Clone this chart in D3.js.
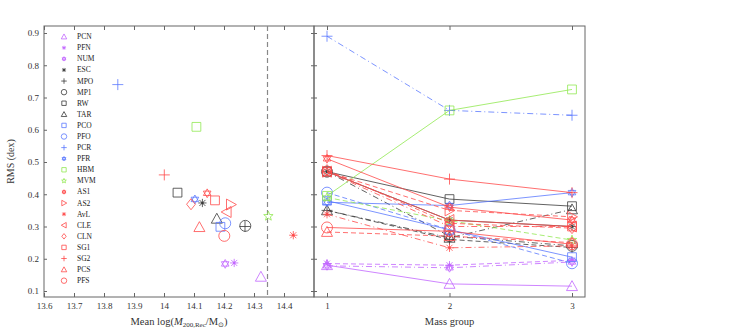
<!DOCTYPE html>
<html>
<head>
<meta charset="utf-8">
<script src="https://cdn.jsdelivr.net/npm/d3@7"></script>
<style>
  body { margin: 0; background: #fff; }
  text { font-family: "Liberation Serif", "DejaVu Serif", serif; }
</style>
</head>
<body>
<svg id="chart" width="748" height="335"></svg>
<script>
// method names, in legend order
const methods = ["PCN","PFN","NUM","ESC","MPO","MP1","RW","TAR","PCO","PFO","PCR","PFR",
                 "HBM","MVM","AS1","AS2","AvL","CLE","CLN","SG1","SG2","PCS","PFS"];
// left panel: mean log mass and RMS for each method
const meanLogMass = [14.323,14.234,14.204,14.128,14.27,14.271,14.045,14.176,14.188,14.204,13.846,14.103,
                     14.108,14.348,14.144,14.223,14.431,14.209,14.09,14.17,14.001,14.118,14.201];
const rmsAll = [0.144,0.187,0.184,0.373,0.30,0.302,0.405,0.324,0.299,0.31,0.74,0.384,
                0.609,0.332,0.403,0.368,0.273,0.345,0.369,0.381,0.46,0.298,0.271];
// right panel: RMS per mass group
const massGroups = [1, 2, 3];
const rmsGroup1 = [0.18,0.185,0.178,0.47,0.35,0.47,0.47,0.35,0.38,0.405,0.89,0.375,
                   0.395,0.39,0.51,0.47,0.338,0.47,0.475,0.47,0.52,0.283,0.297];
const rmsGroup2 = [0.122,0.18,0.172,0.32,0.26,0.27,0.385,0.265,0.29,0.29,0.66,0.365,
                   0.66,0.318,0.36,0.35,0.234,0.32,0.31,0.30,0.447,0.27,0.285];
const rmsGroup3 = [0.115,0.195,0.19,0.30,0.235,0.24,0.363,0.353,0.205,0.186,0.645,0.405,
                   0.725,0.258,0.32,0.33,0.24,0.30,0.295,0.30,0.405,0.25,0.245];
const xTicksLeft = [13.6,13.7,13.8,13.9,14.0,14.1,14.2,14.3,14.4];
const yTicks = [0.1,0.2,0.3,0.4,0.5,0.6,0.7,0.8,0.9];
const massCut = 14.345;

// styles
const colorOf = {
  PCN:"#c266ff",PFN:"#c266ff",NUM:"#c266ff",
  ESC:"#3a3a3a",MPO:"#3a3a3a",MP1:"#3a3a3a",RW:"#3a3a3a",TAR:"#3a3a3a",
  PCO:"#5b78ff",PFO:"#5b78ff",PCR:"#5b78ff",PFR:"#5b78ff",
  HBM:"#90e850",MVM:"#90e850",
  AS1:"#ff4a4a",AS2:"#ff4a4a",AvL:"#ff4a4a",CLE:"#ff4a4a",CLN:"#ff4a4a",SG1:"#ff4a4a",SG2:"#ff4a4a",PCS:"#ff4a4a",PFS:"#ff4a4a"
};
const markerOf = {
  PCN:"tri",PFN:"ast",NUM:"hex",ESC:"ast",MPO:"plus",MP1:"circ",RW:"sq",TAR:"tri",
  PCO:"sq",PFO:"circ",PCR:"plus",PFR:"hex",HBM:"sq",MVM:"star",AS1:"hex",AS2:"triR",
  AvL:"ast",CLE:"triL",CLN:"diam",SG1:"sq",SG2:"plus",PCS:"tri",PFS:"circ"
};
const dashOf = {
  PCN:null,PFN:"5,3",NUM:"6,3,1,3",ESC:null,MPO:"5,3",MP1:"6,3,1,3",RW:null,TAR:"6,3,1,3",
  PCO:null,PFO:"5,3",PCR:"6,3,1,3",PFR:null,HBM:null,MVM:"5,3",AS1:null,AS2:"5,3",
  AvL:"6,3,1,3",CLE:null,CLN:"5,3",SG1:"6,3,1,3",SG2:null,PCS:"5,3",PFS:null
};
const serif = "'Liberation Serif', 'DejaVu Serif', serif";

function markerPath(type, s) {
  const h = s / 2;
  const p = d3.path();
  if (type === "tri") {
    p.moveTo(0, -h); p.lineTo(h, h * 0.8); p.lineTo(-h, h * 0.8); p.closePath();
  } else if (type === "triR") {
    p.moveTo(h, 0); p.lineTo(-h * 0.8, -h); p.lineTo(-h * 0.8, h); p.closePath();
  } else if (type === "triL") {
    p.moveTo(-h, 0); p.lineTo(h * 0.8, -h); p.lineTo(h * 0.8, h); p.closePath();
  } else if (type === "sq") {
    const a = h * 0.8; p.rect(-a, -a, 2 * a, 2 * a);
  } else if (type === "circ") {
    p.moveTo(h, 0); p.arc(0, 0, h, 0, 2 * Math.PI);
  } else if (type === "diam") {
    p.moveTo(0, -h); p.lineTo(h * 0.8, 0); p.lineTo(0, h); p.lineTo(-h * 0.8, 0); p.closePath();
  } else if (type === "plus") {
    p.moveTo(-h, 0); p.lineTo(h, 0); p.moveTo(0, -h); p.lineTo(0, h);
  } else if (type === "ast") {
    const a = h * 0.75, b = h * 0.55;
    p.moveTo(-a, 0); p.lineTo(a, 0); p.moveTo(0, -a); p.lineTo(0, a);
    p.moveTo(-b, -b); p.lineTo(b, b); p.moveTo(-b, b); p.lineTo(b, -b);
  } else if (type === "hex") {
    const r = h * 0.8;
    for (const off of [-Math.PI / 2, Math.PI / 2]) {
      for (let i = 0; i < 3; i++) {
        const ang = off + i * 2 * Math.PI / 3;
        const x = r * Math.cos(ang), yy = r * Math.sin(ang);
        if (i === 0) p.moveTo(x, yy); else p.lineTo(x, yy);
      }
      p.closePath();
    }
  } else if (type === "star") {
    const R = h * 0.9, r = R * 0.42;
    for (let i = 0; i < 10; i++) {
      const ang = -Math.PI / 2 + i * Math.PI / 5;
      const rr = i % 2 === 0 ? R : r;
      if (i === 0) p.moveTo(rr * Math.cos(ang), rr * Math.sin(ang));
      else p.lineTo(rr * Math.cos(ang), rr * Math.sin(ang));
    }
    p.closePath();
  }
  return p.toString();
}

function drawMarker(g, m, x, yy, size) {
  const c = colorOf[m];
  g.append("path")
    .attr("transform", "translate(" + x + "," + yy + ")")
    .attr("d", markerPath(markerOf[m], size))
    .attr("fill", "none")
    .attr("stroke", c)
    .attr("stroke-width", 0.8);
  if (markerOf[m] === "ast") {
    g.append("circle").attr("cx", x).attr("cy", yy).attr("r", size * 0.12).attr("fill", c);
  }
}

const svg = d3.select("#chart");
const plotTop = 26, plotBottom = 297;
const leftL = 44, leftR = 314, rightR = 585;
const frameColor = "#666";

const xL = d3.scaleLinear().domain([13.6, 14.5]).range([leftL, leftR]);
const xR = d3.scaleLinear().domain([1, 3]).range([327, 572]);
const y = d3.scaleLinear().domain([0.1, 0.9]).range([291, 33]);

// frames
svg.append("rect").attr("x", leftL).attr("y", plotTop).attr("width", leftR - leftL).attr("height", plotBottom - plotTop)
  .attr("fill", "none").attr("stroke", frameColor).attr("stroke-width", 1);
svg.append("rect").attr("x", leftR).attr("y", plotTop).attr("width", rightR - leftR).attr("height", plotBottom - plotTop)
  .attr("fill", "none").attr("stroke", frameColor).attr("stroke-width", 1);

// axes
function styleAxis(g) {
  g.attr("font-family", null);
  g.select(".domain").remove();
  g.selectAll(".tick line").attr("stroke", frameColor);
  g.selectAll(".tick text").attr("fill", "#333").style("font-family", serif).style("font-size", "9px");
}
const fmt = d => String(+d.toFixed(1));

svg.append("g").attr("transform", "translate(0," + plotBottom + ")")
  .call(d3.axisBottom(xL).tickValues(xTicksLeft).tickFormat(fmt).tickSizeInner(-4).tickPadding(6))
  .call(styleAxis);
svg.append("g").attr("transform", "translate(0," + plotTop + ")")
  .call(d3.axisTop(xL).tickValues(xTicksLeft).tickFormat("").tickSizeInner(-4))
  .call(styleAxis);
svg.append("g").attr("transform", "translate(0," + plotBottom + ")")
  .call(d3.axisBottom(xR).tickValues(massGroups).tickFormat(d3.format("d")).tickSizeInner(-4).tickPadding(6))
  .call(styleAxis);
svg.append("g").attr("transform", "translate(0," + plotTop + ")")
  .call(d3.axisTop(xR).tickValues(massGroups).tickFormat("").tickSizeInner(-4))
  .call(styleAxis);
svg.append("g").attr("transform", "translate(" + leftL + ",0)")
  .call(d3.axisLeft(y).tickValues(yTicks).tickFormat(fmt).tickSizeInner(-3).tickPadding(5))
  .call(styleAxis);
svg.append("g").attr("transform", "translate(" + leftR + ",0)")
  .call(d3.axisLeft(y).tickValues(yTicks).tickFormat("").tickSizeInner(-3))
  .call(styleAxis);
svg.append("g").attr("transform", "translate(" + leftR + ",0)")
  .call(d3.axisRight(y).tickValues(yTicks).tickFormat("").tickSizeInner(-3))
  .call(styleAxis);

// dashed cut line
svg.append("line")
  .attr("x1", xL(massCut)).attr("x2", xL(massCut))
  .attr("y1", plotTop).attr("y2", plotBottom)
  .attr("stroke", "#888").attr("stroke-width", 1.2).attr("stroke-dasharray", "5,3");

// left panel points
const gL = svg.append("g");
methods.forEach((m, i) => drawMarker(gL, m, xL(meanLogMass[i]), y(rmsAll[i]), 11));

// right panel lines
const gR = svg.append("g");
const line = d3.line().x(d => xR(d[0])).y(d => y(d[1]));
methods.forEach((m, i) => {
  const vals = [rmsGroup1[i], rmsGroup2[i], rmsGroup3[i]];
  const pts = massGroups.map((g, k) => [g, vals[k]]);
  gR.append("path").attr("d", line(pts)).attr("fill", "none")
    .attr("stroke", colorOf[m]).attr("stroke-width", 0.8)
    .attr("stroke-dasharray", dashOf[m]);
  pts.forEach(p => drawMarker(gR, m, xR(p[0]), y(p[1]), 11));
});

// legend
const gLeg = svg.append("g");
methods.forEach((m, i) => {
  const ly = 36.7 + i * 11.09;
  drawMarker(gLeg, m, 64, ly, 5.5);
  gLeg.append("text").attr("x", 77).attr("y", ly + 2.5)
    .style("font-family", serif).style("font-size", "7.5px").attr("fill", "#222").text(m);
});

// axis titles
svg.append("text")
  .attr("transform", "translate(14," + ((plotTop + plotBottom) / 2) + ") rotate(-90)")
  .attr("text-anchor", "middle").style("font-family", serif).style("font-size", "10px").attr("fill", "#333")
  .text("RMS (dex)");

const xt = svg.append("text").attr("x", (leftL + leftR) / 2).attr("y", 325)
  .attr("text-anchor", "middle").style("font-family", serif).style("font-size", "10.5px").attr("fill", "#333");
xt.append("tspan").text("Mean log(");
xt.append("tspan").style("font-style", "italic").text("M");
xt.append("tspan").attr("dy", 2).style("font-size", "7px").text("200,Rec");
xt.append("tspan").attr("dy", -2).text("/M");
xt.append("tspan").attr("dy", 2).style("font-size", "7px").style("font-family", "'DejaVu Sans', sans-serif").text("⊙");
xt.append("tspan").attr("dy", -2).text(")");

svg.append("text").attr("x", xR(2)).attr("y", 325)
  .attr("text-anchor", "middle").style("font-family", serif).style("font-size", "10.5px").attr("fill", "#333")
  .text("Mass group");
</script>
</body>
</html>
